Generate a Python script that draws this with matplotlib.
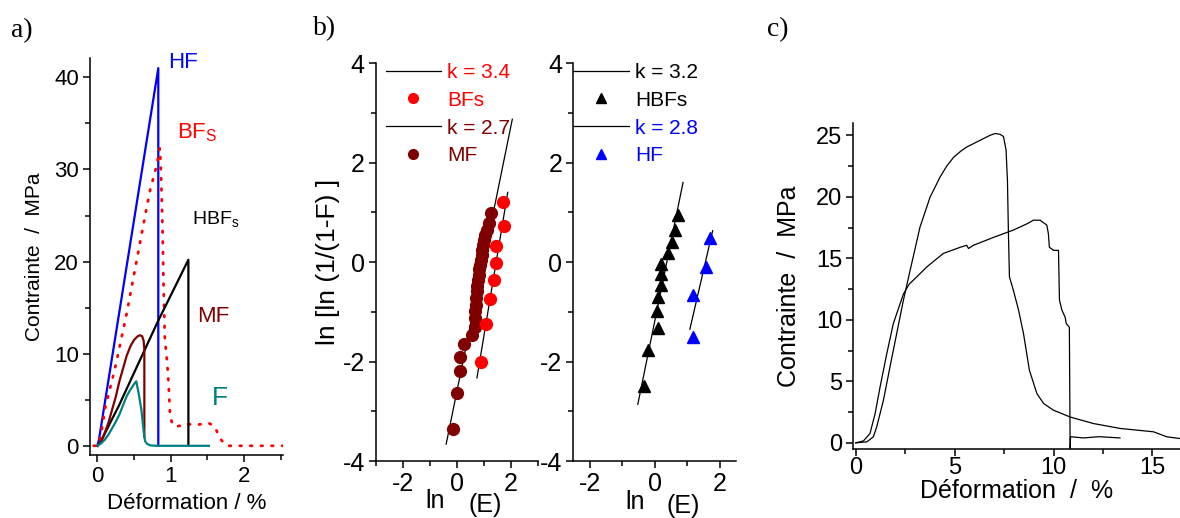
import matplotlib
matplotlib.use("Agg")
import matplotlib.pyplot as plt
from matplotlib.lines import Line2D
from matplotlib.ticker import MultipleLocator

plt.rcParams['font.family'] = ['Liberation Sans', 'DejaVu Sans']
plt.rcParams['mathtext.fontset'] = 'custom'
plt.rcParams['mathtext.rm'] = 'Liberation Sans'
plt.rcParams['axes.linewidth'] = 1.1
plt.rcParams['axes.unicode_minus'] = False

DARKRED = '#800000'
TEAL = '#008080'

#%% data - a) stress / strain curves
hf_x = [0, 0.02, 0.83, 0.83]
hf_y = [0, 0.6, 41.0, 0]

bfs_x = [-0.05, 0.0, 0.05, 0.10, 0.24, 0.40, 0.58, 0.66, 0.72, 0.81, 0.85, 0.86,
         0.875, 0.89, 0.90, 0.91, 0.92, 0.95, 0.97, 0.99, 1.03, 1.08, 1.22,
         1.37, 1.52, 1.60, 1.66, 1.72, 1.77, 2.6]
bfs_y = [0, 0, 1.2, 3.9, 8.4, 14.4, 22.0, 25.4, 27.8, 30.5, 32.3, 31.0,
         27.4, 22.7, 18.0, 14.5, 11.5, 9.1, 6.8, 3.2, 2.2, 2.1, 2.35,
         2.3, 2.45, 2.1, 0.95, 0.3, 0.0, 0.0]

hbfs_x = [0, 0.05, 0.10, 0.15, 0.20, 0.29, 0.40, 0.51, 0.83, 1.24, 1.24]
hbfs_y = [0, 0.45, 1.3, 2.1, 2.9, 4.3, 6.2, 8.1, 13.6, 20.2, 0]

mf_x = [0, 0.03, 0.06, 0.10, 0.15, 0.20, 0.25, 0.30, 0.35, 0.40, 0.45, 0.50,
        0.55, 0.58, 0.61, 0.63, 0.64, 0.64]
mf_y = [0, 0.25, 0.65, 1.4, 2.5, 3.9, 5.3, 7.0, 8.4, 9.8, 10.8, 11.5,
        11.9, 12.0, 11.9, 11.4, 10.5, 1.0]

f_x = [0, 0.05, 0.10, 0.15, 0.20, 0.25, 0.30, 0.35, 0.40, 0.45, 0.50, 0.53,
       0.56, 0.60, 0.63, 0.65, 0.68, 0.72, 0.80, 1.52]
f_y = [0, 0.25, 0.65, 1.2, 1.9, 2.6, 3.4, 4.4, 5.4, 6.1, 6.7, 7.0,
       5.8, 3.9, 1.6, 0.5, 0.2, 0.05, 0.0, 0.0]

#%% data - b) Weibull plots
mf_lnE = [-0.13, 0.0, 0.12, 0.10, 0.27, 0.54, 0.66, 0.66, 0.68, 0.72, 0.72,
          0.74, 0.74, 0.78, 0.80, 0.83, 0.86, 0.88, 0.91, 0.93, 0.95, 0.99,
          1.05, 1.12, 1.18, 1.27]
mf_lnln = [-3.35, -2.64, -2.2, -1.9, -1.65, -1.46, -1.3, -1.13, -0.99, -0.86,
           -0.73, -0.59, -0.48, -0.36, -0.26, -0.15, -0.05, 0.05, 0.15, 0.25,
           0.35, 0.45, 0.55, 0.65, 0.78, 0.99]
bfs_lnE = [0.89, 1.07, 1.24, 1.39, 1.43, 1.46, 1.74, 1.72]
bfs_lnln = [-2.01, -1.24, -0.75, -0.36, -0.02, 0.33, 0.73, 1.21]
fit_mf_x = [-0.40, 2.05]
fit_mf_y = [-3.66, 2.87]
fit_bfs_x = [0.74, 1.88]
fit_bfs_y = [-2.33, 1.40]

hbfs_lnE = [-0.34, -0.22, 0.10, 0.07, 0.10, 0.20, 0.18, 0.18, 0.41, 0.54, 0.61, 0.72]
hbfs_lnln = [-2.50, -1.77, -1.33, -0.99, -0.70, -0.47, -0.25, -0.03, 0.18, 0.40, 0.64, 0.95]
hf_lnE = [1.71, 1.58, 1.17, 1.17]
hf_lnln = [0.48, -0.09, -0.66, -1.50]
fit_hbfs_x = [-0.52, 0.87]
fit_hbfs_y = [-2.86, 1.60]
fit_hf_x = [1.08, 1.78]
fit_hf_y = [-1.35, 0.63]

#%% data - c) two stress / strain curves
ca_x = [0.0, 0.56, 0.89, 1.06, 1.40, 1.73, 2.07, 2.41, 2.75, 3.25, 3.76, 4.26,
        4.60, 4.94, 5.30, 5.61, 6.29, 6.79, 7.05, 7.30, 7.47, 7.60, 7.67, 7.72,
        7.77, 7.97, 8.23, 8.48, 8.62, 8.78, 9.16, 9.50, 9.99, 10.84, 12.02,
        13.37, 15.05, 15.73, 16.4]
ca_y = [0.0, 0.08, 0.49, 1.3, 3.47, 6.17, 8.88, 11.6, 14.03, 17.55, 19.98, 21.6,
        22.5, 23.2, 23.7, 24.05, 24.6, 25.0, 25.15, 25.08, 24.9, 23.8, 21.3, 17.0,
        13.5, 12.4, 10.8, 8.9, 7.5, 5.9, 4.0, 3.2, 2.66, 2.1, 1.57,
        1.17, 0.9, 0.49, 0.35]

cb_x = [0.0, 0.39, 0.72, 0.98, 1.23, 1.57, 1.90, 2.41, 2.70, 3.09, 3.59, 4.43,
        5.28, 5.61, 5.70, 5.95, 6.96, 7.97, 8.65, 8.98, 9.32, 9.66, 9.74, 9.79,
        10.0, 10.25, 10.3, 10.42, 10.59, 10.64, 10.8, 10.84, 10.86, 11.5, 12.3,
        13.36]
cb_y = [0.0, 0.16, 0.76, 2.39, 4.55, 7.26, 9.7, 12.1, 12.9, 13.5, 14.3, 15.4,
        15.9, 16.06, 15.8, 16.06, 16.7, 17.3, 17.8, 18.1, 18.1, 17.7, 17.0, 15.9,
        15.65, 15.65, 11.6, 10.8, 10.2, 9.7, 9.4, -0.45, 0.5, 0.4, 0.5,
        0.4]

#%% figure
fig = plt.figure(figsize=(11.8, 5.18), dpi=100)
ax_a = fig.add_axes([0.0763, 0.1216, 0.1636, 0.7664])
ax_b1 = fig.add_axes([0.3186, 0.110, 0.1373, 0.7683])
ax_b2 = fig.add_axes([0.4859, 0.110, 0.1379, 0.7683])
ax_c = fig.add_axes([0.7232, 0.1332, 0.2769, 0.6293])

for ax in (ax_a, ax_b1, ax_b2, ax_c):
    ax.spines['top'].set_visible(False)
    ax.spines['right'].set_visible(False)
    ax.tick_params(which='both', direction='out', width=1.1)
    ax.tick_params(which='major', length=5)
    ax.tick_params(which='minor', length=3.5)

#%% a)
ax_a.plot(hf_x, hf_y, color='blue', lw=1.6)
ax_a.plot(bfs_x, bfs_y, color='red', lw=2.0, linestyle=(0, (0.6, 3.2)),
          dash_capstyle='round')
ax_a.plot(hbfs_x, hbfs_y, color='black', lw=1.6)
ax_a.plot(mf_x, mf_y, color=DARKRED, lw=1.6)
ax_a.plot(f_x, f_y, color=TEAL, lw=1.6)

ax_a.text(0.96, 41.6, 'HF', color='blue', fontsize=16, va='center')
ax_a.text(1.08, 34.0, r'BF$_\mathregular{S}$', color='red', fontsize=16, va='center')
ax_a.text(1.29, 24.5, r'HBF$_\mathregular{s}$', color='black', fontsize=14, va='center')
ax_a.text(1.36, 14.0, 'MF', color=DARKRED, fontsize=16, va='center')
ax_a.text(1.56, 5.2, 'F', color=TEAL, fontsize=19, va='center')

ax_a.set_xlim(-0.1, 2.53)
ax_a.set_ylim(-1, 42.1)
ax_a.xaxis.set_major_locator(MultipleLocator(1))
ax_a.xaxis.set_minor_locator(MultipleLocator(0.5))
ax_a.yaxis.set_major_locator(MultipleLocator(10))
ax_a.yaxis.set_minor_locator(MultipleLocator(5))
ax_a.tick_params(labelsize=16, pad=3)
ax_a.set_xlabel('Déformation / %', fontsize=16, labelpad=4)
ax_a.set_ylabel('Contrainte  /  MPa', fontsize=15, labelpad=7)

#%% b) left
ax_b1.plot(fit_bfs_x, fit_bfs_y, color='black', lw=0.9)
ax_b1.plot(fit_mf_x, fit_mf_y, color='black', lw=0.9)
ax_b1.plot(mf_lnE, mf_lnln, 'o', color=DARKRED, markersize=8.5)
ax_b1.plot(bfs_lnE, bfs_lnln, 'o', color='red', markersize=8.5)

handles = [Line2D([], [], color='black', lw=0.9),
           Line2D([], [], ls='none', marker='o', color='red', markersize=7),
           Line2D([], [], color='black', lw=0.9),
           Line2D([], [], ls='none', marker='o', color=DARKRED, markersize=7)]
ax_b1.legend(handles, ['k = 3.4', 'BFs', 'k = 2.7', 'MF'],
             loc='upper left', bbox_to_anchor=(0.06, 1.0), frameon=False,
             fontsize=15, handlelength=2.65, handletextpad=0.3,
             labelspacing=0.42, borderpad=0, borderaxespad=0,
             labelcolor=['red', 'red', DARKRED, DARKRED])

ax_b1.set_xlim(-3, 3)
ax_b1.set_ylim(-4, 4)
ax_b1.xaxis.set_major_locator(MultipleLocator(2))
ax_b1.xaxis.set_minor_locator(MultipleLocator(1))
ax_b1.yaxis.set_major_locator(MultipleLocator(2))
ax_b1.yaxis.set_minor_locator(MultipleLocator(1))
ax_b1.tick_params(labelsize=18, pad=3)
ax_b1.set_ylabel('ln [ln (1/(1-F) ]', fontsize=19)
ax_b1.yaxis.set_label_coords(-0.22, 0.5)
ax_b1.text(0.364, -0.118, 'ln', transform=ax_b1.transAxes, ha='center',
           va='baseline', fontsize=18)
ax_b1.text(0.673, -0.128, '(E)', transform=ax_b1.transAxes, ha='center',
           va='baseline', fontsize=18)

#%% b) right
ax_b2.plot(fit_hbfs_x, fit_hbfs_y, color='black', lw=0.9)
ax_b2.plot(fit_hf_x, fit_hf_y, color='black', lw=0.9)
ax_b2.plot(hbfs_lnE, hbfs_lnln, '^', color='black', markersize=8)
ax_b2.plot(hf_lnE, hf_lnln, '^', color='blue', markersize=8)

handles = [Line2D([], [], color='black', lw=0.9),
           Line2D([], [], ls='none', marker='^', color='black', markersize=7),
           Line2D([], [], color='black', lw=0.9),
           Line2D([], [], ls='none', marker='^', color='blue', markersize=7)]
ax_b2.legend(handles, ['k = 3.2', 'HBFs', 'k = 2.8', 'HF'],
             loc='upper left', bbox_to_anchor=(0.0, 1.0), frameon=False,
             fontsize=15, handlelength=2.65, handletextpad=0.3,
             labelspacing=0.42, borderpad=0, borderaxespad=0,
             labelcolor=['black', 'black', 'blue', 'blue'])

ax_b2.set_xlim(-2.5, 2.5)
ax_b2.set_ylim(-4, 4)
ax_b2.xaxis.set_major_locator(MultipleLocator(2))
ax_b2.xaxis.set_minor_locator(MultipleLocator(1))
ax_b2.yaxis.set_major_locator(MultipleLocator(2))
ax_b2.yaxis.set_minor_locator(MultipleLocator(1))
ax_b2.tick_params(labelsize=18, pad=3)
ax_b2.text(0.379, -0.12, 'ln', transform=ax_b2.transAxes, ha='center',
           va='baseline', fontsize=18)
ax_b2.text(0.677, -0.13, '(E)', transform=ax_b2.transAxes, ha='center',
           va='baseline', fontsize=18)

#%% c)
ax_c.plot(ca_x, ca_y, color='black', lw=0.9)
ax_c.plot(cb_x, cb_y, color='black', lw=0.9)
ax_c.set_xlim(-0.12, 16.4)
ax_c.set_ylim(-0.5, 26)
ax_c.xaxis.set_major_locator(MultipleLocator(5))
ax_c.xaxis.set_minor_locator(MultipleLocator(2.5))
ax_c.yaxis.set_major_locator(MultipleLocator(5))
ax_c.yaxis.set_minor_locator(MultipleLocator(2.5))
ax_c.tick_params(labelsize=17, pad=3)
ax_c.tick_params(axis='x', pad=1)
ax_c.set_xlabel('Déformation  /  %', fontsize=18, labelpad=0)
ax_c.set_ylabel('Contrainte  /  MPa', fontsize=18, labelpad=11)

#%% panel letters
fig.text(0.009, 0.94, 'a)', family='Liberation Serif', fontsize=20, va='center')
fig.text(0.265, 0.945, 'b)', family='Liberation Serif', fontsize=20, va='center')
fig.text(0.650, 0.942, 'c)', family='Liberation Serif', fontsize=20, va='center')

fig.savefig('out.png', dpi=100)
